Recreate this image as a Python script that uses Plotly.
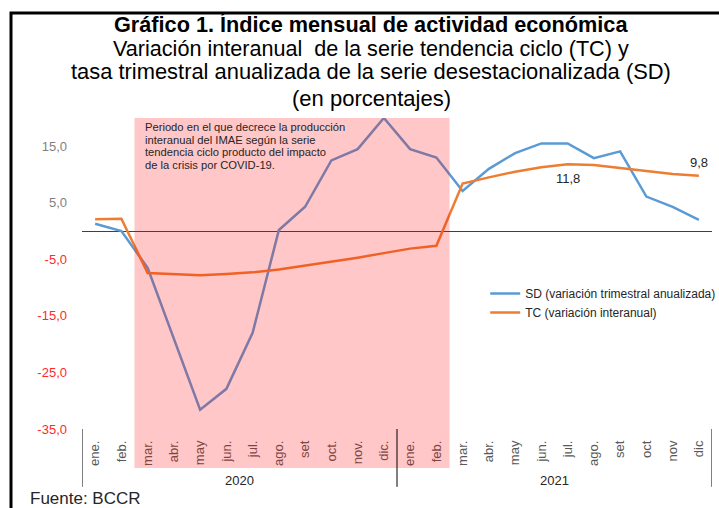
import plotly.graph_objects as go

months_2020 = ["ene.", "feb.", "mar.", "abr.", "may", "jun.", "jul.", "ago.", "set", "oct.", "nov.", "dic."]
months_2021 = ["ene.", "feb.", "mar.", "abr.", "may", "jun.", "jul.", "ago.", "set", "oct", "nov", "dic"]
tick_labels = months_2020 + months_2021
years = ["2020", "2021"]

sd_values = [1.3, 0.0, -6.5, -19.0, -31.6, -27.9, -18.0, 0.2, 4.3, 12.5, 14.5, 20.0,
             14.5, 13.0, 7.1, 11.0, 13.8, 15.5, 15.5, 12.9, 14.1, 6.1, 4.3, 2.0]
tc_values = [2.1, 2.2, -7.4, -7.6, -7.8, -7.6, -7.3, -6.8, -6.1, -5.5, -4.7, -3.9,
             -3.1, -2.6, 8.4, 9.5, 10.5, 11.3, 11.8, 11.7, 11.2, 10.6, 10.1, 9.8]

ytick_vals = [-35, -25, -15, -5, 5, 15]
ytick_text = ["-35,0", "-25,0", "-15,0", "-5,0", "5,0", "15,0"]

note_lines = ["Periodo en el que decrece la producción",
              "interanual del IMAE según la serie",
              "tendencia ciclo producto del impacto",
              "de la crisis por COVID-19."]

x = list(range(len(tick_labels)))

FONT = "Liberation Sans, Arial, sans-serif"
BLUE = "#5b9bd5"
ORANGE = "#ed7d31"

fig = go.Figure()
fig.add_trace(go.Scatter(x=x, y=sd_values, mode="lines", name="SD (variación trimestral anualizada)",
                         line=dict(color=BLUE, width=2.5)))
fig.add_trace(go.Scatter(x=x, y=tc_values, mode="lines", name="TC (variación interanual)",
                         line=dict(color=ORANGE, width=2.5)))

ytext = []
for v, t in zip(ytick_vals, ytick_text):
    col = "#ff2a2a" if v < 0 else "#7f7f7f"
    ytext.append(f"<span style='color:{col}'>{t}</span>")

shapes = [
    # shaded COVID period (mar 2020 - feb 2021)
    dict(type="rect", xref="x", yref="paper", x0=1.5, x1=13.5, y0=-0.125, y1=1.0,
         fillcolor="#ff0000", opacity=0.22, line=dict(width=0), layer="above"),
    # year separators
    dict(type="line", xref="x", yref="paper", x0=-0.5, x1=-0.5, y0=0, y1=-0.186,
         line=dict(color="#000000", width=1)),
    dict(type="line", xref="x", yref="paper", x0=11.5, x1=11.5, y0=0, y1=-0.186,
         line=dict(color="#000000", width=1)),
    dict(type="line", xref="x", yref="paper", x0=23.5, x1=23.5, y0=0, y1=-0.186,
         line=dict(color="#000000", width=1)),
    # outer frame
    dict(type="rect", xref="paper", yref="paper", x0=-0.1127, x1=1.05, y0=-0.4, y1=1.3376,
         line=dict(color="#000000", width=3), fillcolor="rgba(0,0,0,0)"),
]

annotations = [
    dict(text="<b>Gráfico 1. Índice mensual de actividad económica</b>", xref="paper", yref="paper",
         x=0.459, y=1.302, xanchor="center", yanchor="middle", showarrow=False,
         font=dict(family=FONT, size=21.7, color="#000000")),
    dict(text="Variación interanual  de la serie tendencia ciclo (TC) y", xref="paper", yref="paper",
         x=0.459, y=1.225, xanchor="center", yanchor="middle", showarrow=False,
         font=dict(family=FONT, size=21.6, color="#000000")),
    dict(text="tasa trimestral anualizada de la serie desestacionalizada (SD)", xref="paper", yref="paper",
         x=0.459, y=1.151, xanchor="center", yanchor="middle", showarrow=False,
         font=dict(family=FONT, size=21.9, color="#000000")),
    dict(text="(en porcentajes)", xref="paper", yref="paper",
         x=0.4603, y=1.064, xanchor="center", yanchor="middle", showarrow=False,
         font=dict(family=FONT, size=22, color="#000000")),
    dict(text="11,8", xref="x", yref="y", x=x[18], y=tc_values[18], yshift=-14, showarrow=False,
         font=dict(family=FONT, size=13, color="#262626")),
    dict(text="9,8", xref="x", yref="y", x=x[23], y=tc_values[23], yshift=13, showarrow=False,
         font=dict(family=FONT, size=13, color="#262626")),
    dict(text=years[0], xref="x", yref="paper", x=5.5, y=-0.164, yanchor="middle", showarrow=False,
         font=dict(family=FONT, size=13, color="#262626")),
    dict(text=years[1], xref="x", yref="paper", x=17.5, y=-0.164, yanchor="middle", showarrow=False,
         font=dict(family=FONT, size=13, color="#262626")),
    dict(text="Fuente: BCCR", xref="paper", yref="paper", x=-0.0857, y=-0.222, xanchor="left",
         yanchor="middle", showarrow=False, font=dict(family=FONT, size=17, color="#262626")),
]

# note text, one annotation per line for tight line spacing
for i, line in enumerate(note_lines):
    annotations.append(dict(text=line, xref="x", yref="paper", x=1.82, y=(429 - 127 - 12.7 * i) / 311,
                            xanchor="left", yanchor="middle", align="left", showarrow=False,
                            font=dict(family=FONT, size=11.2, color="#262626")))

fig.update_layout(
    width=719, height=508,
    margin=dict(l=82, r=7, t=118, b=79, autoexpand=False),
    paper_bgcolor="white", plot_bgcolor="white",
    showlegend=True,
    legend=dict(x=0.640, y=(429 - 279) / 311, xanchor="left", yanchor="top", bgcolor="rgba(0,0,0,0)",
                font=dict(family=FONT, size=12, color="#262626"), tracegroupgap=0),
    xaxis=dict(range=[-0.5, 23.5], tickmode="array", tickvals=x, ticktext=tick_labels,
               tickangle=-90, showgrid=False, zeroline=False, showline=False, ticks="",
               ticklabelstandoff=8, automargin=False,
               tickfont=dict(family=FONT, size=13, color="#595959")),
    yaxis=dict(range=[-35, 20], tickmode="array", tickvals=ytick_vals, ticktext=ytext,
               showgrid=False, zeroline=True, zerolinecolor="#404040", zerolinewidth=1,
               showline=False, ticks="", ticklabelstandoff=14, automargin=False,
               tickfont=dict(family=FONT, size=13, color="#7f7f7f")),
    shapes=shapes,
    annotations=annotations,
    font=dict(family=FONT),
)

fig.write_html(
    "out.html",
    config={"responsive": False, "displayModeBar": False},
    post_script="document.body.style.margin='0';"
                "document.documentElement.style.overflow='hidden';"
                "document.body.style.overflow='hidden';",
)
